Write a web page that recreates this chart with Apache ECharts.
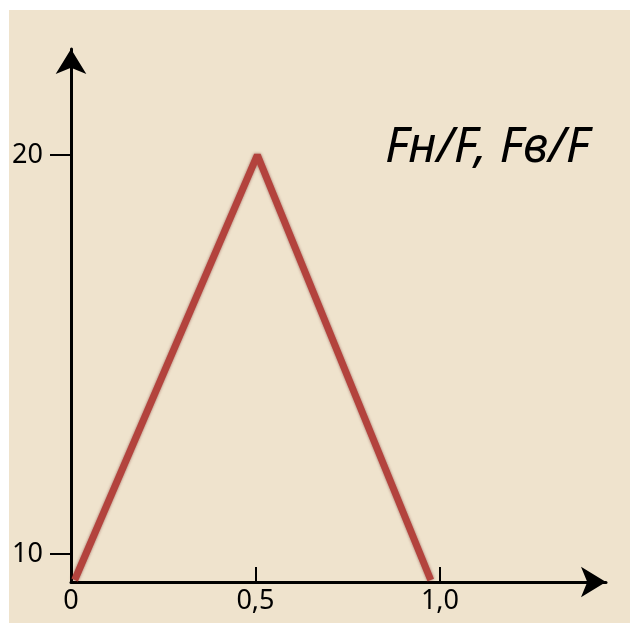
<!DOCTYPE html>
<html lang="ru">

<head>
    <meta charset="UTF-8">
    <title>Fн/F, Fв/F</title>
    <script src="https://cdn.jsdelivr.net/npm/echarts@6.0.0/dist/echarts.min.js"></script>
    <style>
        body { margin: 0; background: #fff; }
        #main { position: absolute; left: 9px; top: 10px; width: 621px; height: 613px; background: #efe3cd; }
    </style>
</head>

<body>
    <div id="main"></div>
    <script>
        // точки графика (x — доля, y — отношение сил)
        var xValues = [0.01, 0.505, 0.975];
        var yValues = [9.35, 20, 9.35];
        var xTicks = [0, 0.5, 1];
        var yTicks = [10, 20];
        var chartTitle = 'Fн/F, Fв/F';

        var chartDom = document.getElementById('main');
        var myChart = echarts.init(chartDom);
        var option;

        var labelFont = {
            color: '#000',
            fontFamily: 'Noto Sans',
            fontSize: 27
        };

        option = {
            backgroundColor: 'transparent',
            animation: false,
            title: {
                text: chartTitle,
                left: 371,
                top: 109,
                textStyle: {
                    color: '#000',
                    fontFamily: 'Noto Sans',
                    fontStyle: 'italic',
                    fontWeight: 'normal',
                    fontSize: 49
                }
            },
            grid: {
                left: 62,
                top: 39,
                width: 535,
                height: 533
            },
            xAxis: {
                type: 'value',
                min: 0,
                max: 1.45,
                splitLine: { show: false },
                axisLine: {
                    lineStyle: { color: '#000', width: 3 },
                    symbol: ['none', 'arrow'],
                    symbolSize: [23, 25]
                },
                axisTick: {
                    inside: true,
                    length: 15,
                    customValues: xTicks,
                    lineStyle: { color: '#000', width: 2 }
                },
                axisLabel: Object.assign({
                    margin: 6,
                    customValues: xTicks,
                    formatter: function (v) {
                        return v === 0 ? '0' : v.toFixed(1).replace('.', ',');
                    }
                }, labelFont)
            },
            yAxis: {
                type: 'value',
                min: 9.3,
                max: 22.66,
                splitLine: { show: false },
                axisLine: {
                    lineStyle: { color: '#000', width: 3 },
                    symbol: ['none', 'arrow'],
                    symbolSize: [23, 25]
                },
                axisTick: {
                    length: 21,
                    customValues: yTicks,
                    lineStyle: { color: '#000', width: 2 }
                },
                axisLabel: Object.assign({
                    margin: 28,
                    customValues: yTicks
                }, labelFont)
            },
            series: [{
                type: 'line',
                data: xValues.map(function (x, i) { return [x, yValues[i]]; }),
                symbol: 'none',
                lineStyle: {
                    color: '#b3433d',
                    width: 7,
                    shadowBlur: 3,
                    shadowColor: 'rgba(110,25,25,0.6)'
                }
            }]
        };

        option && myChart.setOption(option);
    </script>
</body>

</html>
